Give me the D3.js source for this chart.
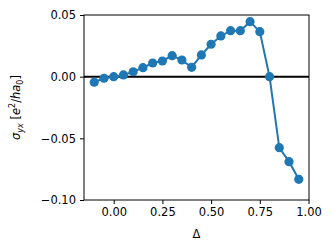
<!DOCTYPE html>
<html>
<head>
<meta charset="utf-8">
<script src="https://cdn.jsdelivr.net/npm/d3@7"></script>
<style>
  body { margin: 0; background: #fff; }
  text { font-family: "DejaVu Sans", sans-serif; fill: #000; }
</style>
</head>
<body>
<svg id="chart" width="333" height="251"></svg>
<script>
// data
var delta = [-0.10, -0.05, 0.00, 0.05, 0.10, 0.15, 0.20, 0.25, 0.30, 0.35, 0.40,
             0.45, 0.50, 0.55, 0.60, 0.65, 0.70, 0.75, 0.80, 0.85, 0.90, 0.95];
var sigma = [-0.0045, -0.0013, 0.0000, 0.0014, 0.0040, 0.0073, 0.0111, 0.0127, 0.0170, 0.0135, 0.0076,
             0.0176, 0.0263, 0.0330, 0.0373, 0.0373, 0.0446, 0.0365, 0.0000, -0.0576, -0.0689, -0.0832];
var xTicks = [0.00, 0.25, 0.50, 0.75, 1.00];
var yTicks = [0.05, 0.00, -0.05, -0.10];

var svg = d3.select("#chart"),
  mLeft = 84, mRight = 309, mTop = 15, mBottom = 200;

// matplotlib style 5% margins on x, fixed y limits
var x = d3.scaleLinear().domain([-0.1525, 1.0025]).range([mLeft, mRight]);
var y = d3.scaleLinear().domain([-0.10, 0.05]).range([mBottom, mTop]);

var fmt = function(d) { return d3.format(".2f")(d).replace("-", "\u2212"); };

// zero line
svg.append("line")
  .attr("x1", mLeft).attr("x2", mRight)
  .attr("y1", y(0)).attr("y2", y(0))
  .attr("stroke", "#000").attr("stroke-width", 2);

// series
var line = d3.line().x(function(d, i) { return x(delta[i]); }).y(function(d) { return y(d); });
svg.append("path")
  .datum(sigma)
  .attr("d", line)
  .attr("fill", "none")
  .attr("stroke", "#1f77b4")
  .attr("stroke-width", 2);

svg.selectAll("circle.pt")
  .data(sigma)
  .enter().append("circle")
  .attr("class", "pt")
  .attr("cx", function(d, i) { return x(delta[i]); })
  .attr("cy", function(d) { return y(d); })
  .attr("r", 4.6)
  .attr("fill", "#1f77b4");

// axes
var xAxis = d3.axisBottom(x).tickValues(xTicks).tickFormat(fmt).tickSize(4).tickPadding(4);
var yAxis = d3.axisLeft(y).tickValues(yTicks).tickFormat(fmt).tickSize(4).tickPadding(4);

var gx = svg.append("g").attr("transform", "translate(0," + mBottom + ")").call(xAxis);
var gy = svg.append("g").attr("transform", "translate(" + mLeft + ",0)").call(yAxis);
[gx, gy].forEach(function(g) {
  g.select(".domain").remove();
  g.selectAll("line").attr("stroke", "#000").attr("stroke-width", 1);
  g.selectAll("text").style("font-size", "11.5px").attr("font-family", "DejaVu Sans");
});

// frame
svg.append("rect")
  .attr("x", mLeft).attr("y", mTop)
  .attr("width", mRight - mLeft).attr("height", mBottom - mTop)
  .attr("fill", "none").attr("stroke", "#000").attr("stroke-width", 1);

// x label
svg.append("text")
  .attr("x", (mLeft + mRight) / 2).attr("y", 238)
  .attr("text-anchor", "middle")
  .style("font-size", "11.5px")
  .text("\u0394");

// y label: sigma_yx [e^2/ha_0]
var yl = svg.append("text")
  .attr("transform", "translate(20," + ((mTop + mBottom) / 2) + ") rotate(-90)")
  .attr("text-anchor", "middle")
  .style("font-size", "11.5px");
yl.append("tspan").style("font-style", "italic").text("\u03c3");
yl.append("tspan").style("font-style", "italic").style("font-size", "8px").attr("dy", 3).text("yx");
yl.append("tspan").attr("dy", -3).text(" [");
yl.append("tspan").style("font-style", "italic").text("e");
yl.append("tspan").style("font-size", "8px").attr("dy", -5).text("2");
yl.append("tspan").attr("dy", 5).text("/");
yl.append("tspan").style("font-style", "italic").text("ha");
yl.append("tspan").style("font-size", "8px").attr("dy", 3).text("0");
yl.append("tspan").attr("dy", -3).text("]");
</script>
</body>
</html>
